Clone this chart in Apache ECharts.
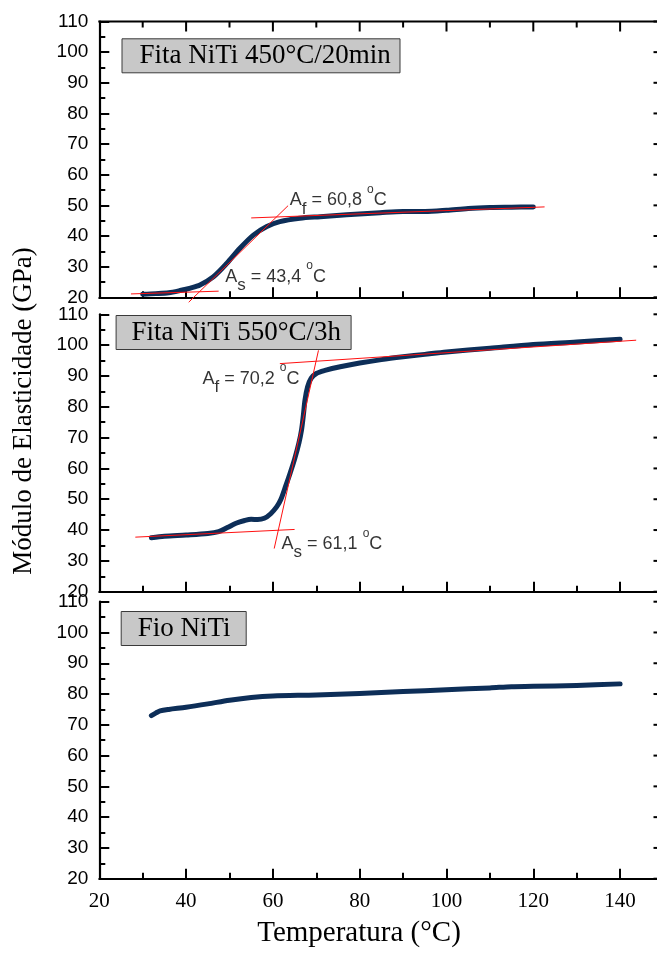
<!DOCTYPE html>
<html><head><meta charset="utf-8">
<script src="https://cdn.jsdelivr.net/npm/echarts@6/dist/echarts.min.js"></script>
<style>html,body{margin:0;padding:0;background:#fff}#c{width:657px;height:953px}</style>
</head><body><div id="c"></div>
<script>
// ---- data ----
const panelTitles = ['Fita NiTi 450°C/20min', 'Fita NiTi 550°C/3h', 'Fio NiTi'];
const xTickLabels = [20, 40, 60, 80, 100, 120, 140];
const yTickLabels = [20, 30, 40, 50, 60, 70, 80, 90, 100, 110];

const temp450 = [30, 33, 36, 38.6, 41, 43.2, 46.3, 49.4, 52.4, 55.5, 58.6, 61.6, 66.2, 70.9, 77, 84.7, 90, 95, 100, 105, 110, 115, 120];
const mod450  = [21.0, 21.2, 21.5, 22.2, 23.0, 24.0, 26.7, 31.1, 36.0, 40.3, 43.1, 44.7, 45.8, 46.3, 46.9, 47.6, 48.0, 48.0, 48.4, 49.0, 49.3, 49.4, 49.5];

const temp550 = [32, 35, 40, 45, 47.5, 49.5, 51.5, 53.5, 55, 56.5, 58, 59.5, 60.9, 61.8, 63, 64, 65, 66, 66.6, 67, 67.4, 68, 68.8, 70, 72, 75.5, 80, 85, 90, 95, 100, 110, 120, 130, 140];
const mod550  = [37.5, 38, 38.4, 38.9, 39.5, 40.8, 42.2, 43.1, 43.5, 43.4, 43.8, 45.3, 47.6, 49.8, 54.5, 58.6, 63, 68.3, 72.5, 77, 82.2, 86.5, 89.2, 90.8, 91.8, 93, 94.2, 95.3, 96.2, 97, 97.8, 99, 100.2, 101, 101.9];

const tempFio = [32, 33, 34, 36, 40, 45, 50, 55, 60, 70, 80, 90, 100, 110, 115, 120, 130, 140];
const modFio  = [73, 73.8, 74.5, 75, 75.7, 76.8, 78, 78.9, 79.4, 79.7, 80.2, 80.8, 81.4, 82, 82.4, 82.5, 82.8, 83.3];

// tangent (red) lines: [temperature, modulus] end points
const base450  = [[27.3, 21.1], [47.5, 22.0]];
const steep450 = [[40.6, 18.4], [63.5, 49.9]];
const upper450 = [[55.0, 45.9], [122.6, 49.5]];
const base550  = [[28.3, 37.7], [65.0, 40.2]];
const steep550 = [[60.3, 34.0], [70.5, 98.3]];
const upper550 = [[61.6, 94.0], [143.7, 101.6]];

// annotations: anchor (temperature, modulus), subscript, value
const annot450 = [[63.9, 51.6, 'f', '60,8'], [49.0, 26.7, 's', '43,4']];
const annot550 = [[43.8, 88.95, 'f', '70,2'], [62.0, 35.4, 's', '61,1']];

// ---- chart ----
const X_MIN = 20, X_STEP = 20, X_MAX = 160, X_FRAME = 150;
const Y_MIN = 20, Y_MAX = 110, Y_STEP = 10;
const PX_PER_X = 4.34;
const panels = [{top: 21.5, height: 275.8}, {top: 314.3, height: 277.4}, {top: 601.7, height: 277}];
const GRID_LEFT = 99.3;
const GRID_W = (X_MAX - X_MIN) * PX_PER_X;

const zip = (a, b) => a.map((v, i) => [v, b[i]]);
const SERIF = '"Liberation Serif", "Times New Roman", serif';
const SANS = '"Liberation Sans", Arial, sans-serif';

const grid = panels.map(g => ({left: GRID_LEFT, top: g.top, width: GRID_W, height: g.height, outerBoundsMode: 'none', containLabel: false}));

function xAx(gi, labels) {
  return {
    gridIndex: gi, type: 'value', position: 'bottom', min: X_MIN, max: X_MAX, interval: X_STEP,
    axisLine: {show: true, onZero: false, lineStyle: {color: '#000', width: 2.2}},
    axisTick: {show: true, inside: true, length: 10, lineStyle: {color: '#000', width: 2}},
    minorTick: {show: true, splitNumber: 2, length: 6, lineStyle: {color: '#000', width: 2}},
    splitLine: {show: false}, minorSplitLine: {show: false},
    axisLabel: {show: labels, margin: 12, color: '#000', fontFamily: SERIF, fontSize: 21, showMaxLabel: false,
      formatter: v => xTickLabels.includes(v) ? String(v) : ''}
  };
}
function yAx(gi) {
  return {
    gridIndex: gi, type: 'value', position: 'left', min: Y_MIN, max: Y_MAX, interval: Y_STEP,
    axisLine: {show: true, onZero: false, lineStyle: {color: '#000', width: 2.2}},
    axisTick: {show: true, inside: true, length: 10, lineStyle: {color: '#000', width: 2}},
    minorTick: {show: true, splitNumber: 2, length: 6, lineStyle: {color: '#000', width: 2}},
    splitLine: {show: false}, minorSplitLine: {show: false},
    axisLabel: {show: true, margin: 11, color: '#000', fontFamily: SANS, fontSize: 19,
      formatter: v => yTickLabels.includes(v) ? String(v) : ''}
  };
}

const xAxis = [xAx(0, false), xAx(1, false), xAx(2, true)];
const yAxis = [yAx(0), yAx(1), yAx(2)];

const BLUE = '#0d2e58';
function curve(i, xs, ys) {
  return {type: 'line', xAxisIndex: i, yAxisIndex: i, data: zip(xs, ys), showSymbol: false, symbol: 'none',
    smooth: 0.3, lineStyle: {color: BLUE, width: 5, cap: 'round', join: 'round'}, silent: true, z: 3, animation: false};
}
function redLine(i, pts) {
  return {type: 'line', xAxisIndex: i, yAxisIndex: i, data: pts, showSymbol: false, symbol: 'none', clip: false,
    lineStyle: {color: '#ff1010', width: 1}, silent: true, z: 4, animation: false};
}
const rich = {
  a: {fontFamily: SANS, fontSize: 18, color: '#000', lineHeight: 34, verticalAlign: 'middle'},
  s: {fontFamily: SANS, fontSize: 17, color: '#000', lineHeight: 20, verticalAlign: 'bottom'},
  o: {fontFamily: SANS, fontSize: 12, color: '#000', lineHeight: 22, verticalAlign: 'top'}
};
function annots(i, list) {
  return {type: 'scatter', xAxisIndex: i, yAxisIndex: i, symbolSize: 0, silent: true, z: 5, animation: false, clip: false,
    data: list.map(a => ({value: [a[0], a[1]], sub: a[2], val: a[3]})),
    label: {show: true, position: 'right', distance: 0, rich: rich,
      formatter: p => '{a|A}{s|' + p.data.sub + '}{a| = ' + p.data.val + ' }{o|o}{a|C}'}};
}

const series = [
  curve(0, temp450, mod450), curve(1, temp550, mod550), curve(2, tempFio, modFio),
  redLine(0, base450), redLine(0, steep450), redLine(0, upper450),
  redLine(1, base550), redLine(1, steep550), redLine(1, upper550),
  annots(0, annot450), annots(1, annot550)
];

const boxPos = [{left: 121.5, top: 38.3, padding: [3, 9, 3, 18]}, {left: 115.6, top: 315, padding: [3, 10, 3, 16]}, {left: 120.7, top: 611, padding: [3, 16, 3, 17]}];
const title = panelTitles.map((t, i) => ({
  text: t, left: boxPos[i].left, top: boxPos[i].top, padding: boxPos[i].padding,
  backgroundColor: '#c8c8c8', borderColor: '#3a3a3a', borderWidth: 1,
  textStyle: {fontFamily: SERIF, fontSize: 27, fontWeight: 'normal', color: '#000', lineHeight: 29}
}));

const graphic = [
  {type: 'text', x: 24, y: 411, rotation: Math.PI / 2, silent: true,
    style: {text: 'Módulo de Elasticidade (GPa)', font: '27px ' + SERIF, fill: '#000', align: 'center', verticalAlign: 'middle', textAlign: 'center', textVerticalAlign: 'middle'}},
  {type: 'text', x: 359, y: 933, silent: true,
    style: {text: 'Temperatura (°C)', font: '29px ' + SERIF, fill: '#000', align: 'center', verticalAlign: 'middle', textAlign: 'center', textVerticalAlign: 'middle'}}
];

const chart = echarts.init(document.getElementById('c'), null, {renderer: 'canvas'});
chart.setOption({animation: false, backgroundColor: '#fff', grid, xAxis, yAxis, series, title, graphic});

// frame decorations (top frame of panel 1, right frame ticks of every panel),
// positioned through the axes' own scales
const frame = [];
const seg = (x1, y1, x2, y2, w) => frame.push({type: 'line', silent: true, z: 100,
  shape: {x1, y1, x2, y2}, style: {stroke: '#000', lineWidth: w}});
const px = (gi, x, y) => chart.convertToPixel({xAxisIndex: gi, yAxisIndex: gi}, [x, y]);
{
  const a = px(0, X_MIN, Y_MAX), b = px(0, X_FRAME, Y_MAX);
  seg(a[0] - 1, a[1], b[0], b[1], 2.2);
  for (let x = X_MIN + 10; x < X_FRAME; x += 10) {
    const p = px(0, x, Y_MAX);
    const len = (x - X_MIN) % X_STEP === 0 ? 10 : 6;
    seg(p[0], p[1], p[0], p[1] + len, 2);
  }
}
for (let gi = 0; gi < 3; gi++) {
  for (let y = Y_MIN; y <= Y_MAX; y += Y_STEP) {
    const p = px(gi, X_FRAME, y);
    seg(p[0], p[1], p[0] - 10, p[1], 2);
  }
  const a = px(gi, X_FRAME, Y_MIN), b = px(gi, X_FRAME, Y_MAX);
  seg(a[0], a[1], b[0], b[1], 2.2);
}
chart.setOption({graphic: graphic.concat(frame)});
</script></body></html>
